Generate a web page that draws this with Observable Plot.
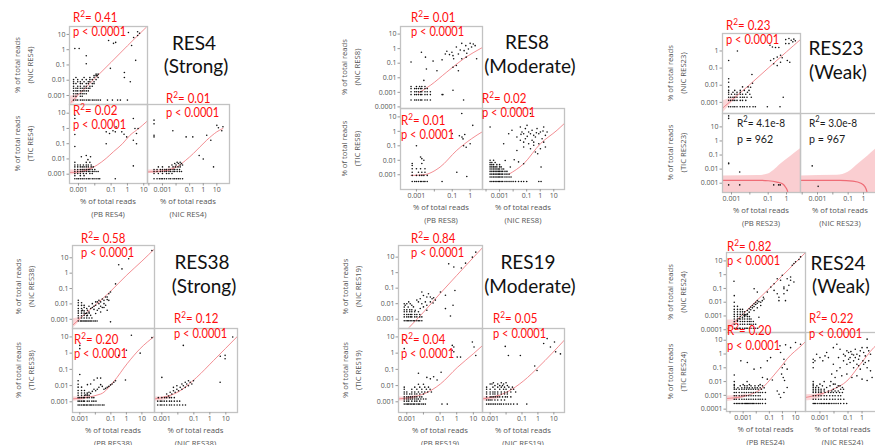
<!DOCTYPE html>
<html><head><meta charset="utf-8">
<script src="https://cdn.jsdelivr.net/npm/d3@7"></script>
<script src="https://cdn.jsdelivr.net/npm/@observablehq/plot@0.6"></script>
<style>
body{margin:0;background:#fff;}
#chart{position:relative;width:875px;height:445px;overflow:hidden;background:#fff;}
</style></head><body><div id="chart"></div>
<script>
// ---------- DATA (rows are [y, x1, x2, ...]: points sharing one y level) ----------
const groups = ["RES4","RES8","RES23","RES38","RES19","RES24"];
const strengths = ["(Strong)","(Moderate)","(Weak)","(Strong)","(Moderate)","(Weak)"];
const r2Labels = [["0.41","0.02","0.01"],["0.01","0.01","0.02"],["0.23","4.1e-8","3.0e-8"],["0.58","0.20","0.12"],["0.84","0.04","0.05"],["0.82","0.20","0.22"]];
const pLabels = [["< 0.0001","< 0.0001","< 0.0001"],["< 0.0001","< 0.0001","< 0.0001"],["< 0.0001","= 962","= 967"],["< 0.0001","< 0.0001","< 0.0001"],["< 0.0001","< 0.0001","< 0.0001"],["< 0.0001","< 0.0001","< 0.0001"]];
const sources = ["PB","NIC","TIC"];
const decadeTicks = [0.0001,0.001,0.01,0.1,1,10];
const xLabelTicks = [0.001,0.1,1,10];

// RES4
const res4_pb_nic = [[15,4.2],[13.5,1.15],[12,5.5],[8.6,4.2],[6.3,2.4],[4,0.07],[3,0.19],[2.6,0.14],[1.9,1.8],[1.2,0.0006,0.0011],[0.4,0.003],[0.2,3.2],[0.12,0.003],[0.06,0.09],[0.032,0.65],[0.025,0.012,0.016],[0.02,0.009,0.012,0.014],[0.015,0.0007,0.0022,0.005,0.009,0.016,0.65],[0.011,0.0005,0.0009,0.0017,0.003,0.005,0.007,0.012],[0.008,0.0005,0.0009,0.0013,0.0022,0.004,0.005,0.009,1.5],[0.006,0.0005,0.0007,0.0013,0.0017,0.003,0.004,0.007,0.009],[0.004,0.0005,0.0009,0.0013,0.0022,0.003,0.005,0.007],[0.003,0.0005,0.0007,0.0009,0.0013,0.0017,0.0022,0.003,0.004,0.005],[0.002,0.0005,0.0007,0.0009,0.0013,0.0017,0.0022,0.003,0.004],[0.0013,0.0005,0.0007,0.0009,0.0013,0.0017,0.0022,0.003],[0.0009,0.0005,0.0007,0.0013,0.0017],[0.0005,0.0005,0.0007,0.0009,0.0013,0.0017,0.0022,0.003,0.004,0.005,0.007,0.009,0.012,0.016,0.022,0.06,0.12,0.25,0.37,1]];
const res4_pb_tic = [[7.4,0.0006],[4.5,0.0006,2.3],[1.26,0.2],[1,2.9,4.5],[0.7,0.13],[0.6,0.05,0.18,0.45],[0.47,0.08,3.6],[0.42,0.62],[0.4,0.0006],[0.28,0.9],[0.17,2.3],[0.1,0.05,3.6],[0.065,0.0006],[0.017,0.003],[0.014,0.0015,0.0055],[0.009,0.0038],[0.0035,2.3],[0.006,0.0006,0.003,0.005],[0.004,0.0006,0.0009,0.0013,0.002,0.003,0.004,0.006],[0.003,0.0006,0.0009,0.0013,0.0017,0.0022,0.003,0.004,0.006,0.008],[0.002,0.0006,0.0009,0.0013,0.0017,0.0022,0.003,0.004,0.005,0.007,0.01],[0.0015,0.0006,0.0009,0.0013,0.0017,0.0022,0.003,0.004,0.005,0.007,0.009,0.012,0.016],[0.0011,0.0006,0.0009,0.0013,0.002,0.003,0.005,0.007],[0.0008,0.0006,0.0013,0.0022],[0.0005,0.0006,0.0008,0.001,0.0013,0.0017,0.0022,0.003,0.004,0.005,0.007,0.009,0.012,0.016,0.02,0.18]];
const res4_nic_tic = [[3.5,0.00024],[2,0.00024],[1.6,10],[1.3,28],[1.1,13],[0.7,0.0058,23],[0.36,0.00024,1.8],[0.28,0.00024,0.055,0.17],[0.17,3.6],[0.017,0.5],[0.01,1],[0.003,5.7],[0.006,0.012,0.02],[0.005,0.008,0.015,0.025],[0.004,0.005,0.01,0.02,0.03],[0.003,0.0005,0.001,0.003,0.006,0.009,0.014,0.02],[0.002,0.00024,0.0004,0.0007,0.001,0.0015,0.002,0.003,0.004,0.006,0.008,0.012,0.018],[0.0015,0.00024,0.0004,0.0007,0.001,0.0015,0.002,0.003,0.004,0.006,0.008,0.012,0.018,0.025],[0.0011,0.00024,0.0005,0.001,0.002,0.003,0.005],[0.0005,0.00024,0.0004,0.0006,0.0008,0.001,0.0014,0.002,0.003,0.004,0.006,0.008,0.011,0.015,0.02,0.03]];
const res4_pb_nic_fit = [[0.00035,0.00036],[0.001,0.0011],[0.01,0.013],[0.1,0.15],[1,1.8],[14.5,30]];
const res4_pb_tic_fit = [[0.00028,0.0013],[0.001,0.0014],[0.005,0.0022],[0.014,0.004],[0.05,0.011],[0.14,0.03],[0.5,0.1],[1.4,0.35],[5,1],[15,2.8]];
const res4_nic_tic_fit = [[0.00008,0.0014],[0.001,0.0016],[0.0114,0.003],[0.05,0.008],[0.19,0.023],[1.8,0.17],[10,0.6],[28,1.0]];
const res4_pb_nic_band = [[0.00028,0.00026,0.0009],[0.0005,0.0003,0.001],[0.001,0.0009,0.0013]];
const res4_pb_tic_band = [[0.00028,0.0009,0.0019],[0.002,0.0012,0.0021],[0.008,0.0024,0.0035]];
const res4_nic_tic_band = [[0.00008,0.0011,0.0019],[0.002,0.0013,0.0021],[0.01,0.0024,0.0034]];

// RES8
const res8_pb_nic = [[2.3,0.34,1],[2.1,1.5],[1.6,0.57,1.9],[1.3,0.17,1.2],[0.95,0.8],[0.8,0.28],[0.73,0.46],[0.66,0.05],[0.56,0.0019,0.096],[0.48,0.65],[0.43,0.041,0.22],[0.39,0.07],[0.33,0.11],[0.26,0.0032,0.6],[0.2,0.12,0.34,2.3],[0.17,0.027],[0.14,0.0085],[0.12,0.0005],[0.07,0.17],[0.053,0.11],[0.04,0.0036],[0.03,0.014,0.22],[0.0066,0.0026],[0.0014,0.11],[0.0025,0.0005,0.001,0.0015,0.002,0.003],[0.0018,0.0005,0.0008,0.001,0.0013,0.0017,0.002,0.003,0.004],[0.0011,0.0005,0.0008,0.001,0.0013,0.0017,0.002,0.003,0.004,0.006],[0.0007,0.0005,0.0008,0.001,0.0013,0.0017,0.002,0.003,0.004,0.006,0.027,0.03],[0.0003,0.0005,0.0008,0.001,0.0013,0.0017,0.002,0.003,0.004,0.006,0.43]];
const res8_pb_tic = [[17,0.34],[2.6,1.4],[0.7,0.1],[0.6,0.5],[0.5,0.25],[0.4,0.35],[0.3,0.4],[0.14,1],[0.1,0.001,0.43],[0.08,0.6],[0.017,0.0017],[0.013,0.002],[0.01,0.0026],[0.006,0.002,0.00058],[0.0044,0.00058],[0.0026,0.00058,0.001,0.0017,0.003],[0.0015,0.00058,0.0013,0.002,0.003,0.18],[0.0009,0.00058,0.001,0.0015,0.002,0.0026,0.004],[0.00075,0.65],[0.00034,0.00058,0.0008,0.001,0.0013,0.0017,0.002,0.0026,0.003,0.004,0.027]];
const res8_nic_tic = [[17,0.19],[2.6,0.106],[2,0.0002,0.034,1.8],[1.55,0.08,0.58],[1.18,0.0082,0.25],[1.05,1.6],[0.91,0.045,0.14,1.03,3.2],[0.8,0.52],[0.69,0.0047,0.06,0.19,0.78],[0.62,0.038],[0.53,0.33,2.4],[0.45,0.11],[0.41,0.019,0.44],[0.31,1.37,0.08],[0.24,0.034,0.25],[0.18,0.06,1.8,0.33],[0.14,0.002,0.14,0.78],[0.11,0.33],[0.083,0.06,2.4],[0.063,0.19,1.03],[0.048,0.019],[0.037,0.44],[0.028,0.65],[0.011,0.012],[0.0097,0.0026],[0.0077,0.025],[0.0058,0.06],[0.0034,0.0062,1.15],[0.01,0.0002,0.00036],[0.007,0.0002,0.00027,0.00047],[0.005,0.0002,0.00027,0.00036,0.00063,0.001],[0.0035,0.0002,0.00027,0.00036,0.00047,0.00063,0.001,0.0013],[0.0025,0.0002,0.00027,0.00036,0.00047,0.00063,0.0008,0.001,0.0015,0.002],[0.0017,0.0002,0.00027,0.00036,0.00047,0.00063,0.0008,0.001,0.0013,0.0017,0.0025,0.0035],[0.0011,0.0002,0.00027,0.00036,0.00047,0.00063,0.0008,0.001,0.0013,0.0017,0.0025,0.0035,0.005],[0.0007,0.0002,0.00027,0.00036,0.00047,0.00063,0.0008,0.001,0.0013,0.0017,0.0025,0.0035,0.005,0.007],[0.00034,0.0002,0.00027,0.00036,0.00047,0.00063,0.0008,0.001,0.0013,0.0017,0.0025,0.0035,0.005,0.007,0.01,0.015,0.025,0.04,0.06,0.1,0.78,1.15]];
const res8_pb_nic_fit = [[0.0013,0.0009],[0.006,0.003],[0.05,0.025],[0.43,0.2],[4.9,1.2]];
const res8_pb_tic_fit = [[0.0005,0.0009],[0.0026,0.001],[0.021,0.0034],[0.18,0.049],[1.2,0.31],[4.9,0.95]];
const res8_nic_tic_fit = [[0.005,0.0011],[0.06,0.0058],[1.03,0.14],[17.5,1.2],[62,3.6]];

// RES23
const res23_pb_nic = [[5.3,1.35],[4.9,2.5],[4.6,0.9],[4.2,1.8],[3.9,3],[3.4,2.2],[2.7,0.9,1.35],[2.15,0.125],[1.7,0.17],[1.6,0.25,0.38],[1,0.0021],[0.56,0.47],[0.44,0.31],[0.4,0.58],[0.35,0.2],[0.28,0.0007,0.135,1.1],[0.22,1.5,0.47],[0.18,0.2],[0.14,0.31],[0.042,0.013],[0.024,0.0007],[0.015,0.0007],[0.013,0.014],[0.0076,0.011],[0.002,0.66],[0.008,0.0007,0.004,0.008],[0.005,0.0007,0.0015,0.003,0.005,0.009],[0.0039,0.0007,0.0012,0.002,0.003,0.0074],[0.003,0.0007,0.001,0.0015,0.002,0.003,0.004,0.006,0.01],[0.002,0.0007,0.0009,0.0012,0.0015,0.002,0.003,0.004,0.005,0.007,0.012],[0.0013,0.0007,0.0009,0.0012,0.0015,0.002,0.003,0.004,0.006],[0.00056,0.0007,0.0009,0.0012,0.0015,0.002,0.003,0.004,0.005,0.007,0.01,0.015,0.02,0.09,0.44]];
const res23_pb_tic = [[60,0.0007],[40,0.0007],[0.027,0.0007],[0.024,0.0007],[0.0063,0.0028],[0.00076,0.0007,0.0028,0.2,0.37,0.45]];
const res23_nic_tic = [[0.017,0.00045],[0.0006,0.0011]];
const res23_pb_nic_fit = [[0.00032,0.00045],[0.001,0.0013],[0.01,0.011],[0.1,0.1],[1,0.9],[5.8,4.7]];
const res23_pb_tic_fit = [[0.00032,0.0016],[0.03,0.0016],[0.1,0.0015],[0.3,0.0012],[0.6,0.0009],[0.9,0.0005],[1.15,0.00025],[1.25,0.0001]];
const res23_nic_tic_fit = [[0.00008,0.0016],[0.03,0.0016],[0.2,0.0014],[0.68,0.001],[1.2,0.0006],[1.7,0.00023],[1.9,0.0001]];
const res23_pb_nic_band = [[0.00032,0.00022,0.0012],[0.001,0.0009,0.0018],[0.002,0.0018,0.0025]];
const res23_pb_tic_band = [[0.00032,1e-5,0.0033],[0.03,1e-5,0.0035],[0.1,1e-5,0.0045],[0.2,1e-5,0.008],[0.47,1e-5,0.022],[1.65,1e-5,0.08],[5.8,1e-5,0.28]];
const res23_nic_tic_band = [[0.00008,1e-5,0.0033],[0.02,1e-5,0.0036],[0.1,1e-5,0.006],[0.5,1e-5,0.025],[1.95,1e-5,0.087],[6.6,1e-5,0.28],[12.6,1e-5,0.5]];

// RES38
const res38_pb_nic = [[30,44],[8.7,1.4],[3.5,0.32],[1.9,0.52],[0.2,0.2],[0.059,0.095],[0.046,0.074],[0.028,0.046,0.058],[0.021,0.028],[0.019,0.058],[0.017,0.036,0.017,0.074,0.0008],[0.0135,0.022,0.0134,0.0105],[0.012,0.0008,0.0013],[0.0104,0.017,0.036,0.0064],[0.0081,0.0105,0.046],[0.008,0.0008,0.0013,0.0019],[0.007,0.0082,0.022,0.0039],[0.0058,0.0064,0.028,0.036,0.0019],[0.005,0.005,0.017,0.0008,0.0013,0.0028],[0.0044,0.0082],[0.0039,0.0134,0.0031,0.058,0.0015],[0.0035,0.0008,0.0013,0.0019],[0.003,0.0039,0.022],[0.0025,0.0008,0.0013,0.0019,0.0028,0.004],[0.0024,0.0024,0.0105],[0.0018,0.0019,0.005,0.0031],[0.0017,0.0008,0.0013,0.0028],[0.0012,0.0008,0.0013,0.0019,0.0028,0.004,0.006],[0.00077,0.0008,0.0011,0.0013,0.0016,0.0019,0.0023,0.0028,0.0034,0.004,0.005,0.006,0.008,0.01,0.013],[0.00068,0.095]];
const res38_pb_tic = [[12.6,2.1],[9.1,44],[3,0.001],[1.9,0.001],[1.5,1],[1,7.7],[0.73,0.32],[0.048,0.001],[0.022,0.87],[0.029,0.0134,0.022],[0.022,0.0082],[0.02,0.2,0.00078],[0.016,0.155],[0.0126,0.12,0.005],[0.012,0.00078],[0.0114,0.022,0.0031],[0.011,0.095],[0.0089,0.074,0.028],[0.008,0.00078,0.0013],[0.0078,0.058,0.017],[0.0067,0.046],[0.006,0.036,0.0134,0.0082],[0.005,0.00078,0.0013,0.002],[0.0048,0.0105],[0.0044,0.0064],[0.0039,0.0039],[0.0035,0.00078,0.0013,0.002,0.003],[0.0033,0.005],[0.003,0.0031],[0.0026,0.0024],[0.0025,0.00078,0.0013,0.002,0.003,0.004],[0.0018,0.00078,0.001,0.0013,0.0017,0.002,0.003,0.004,0.006,0.008],[0.0011,0.00078,0.001,0.0013,0.0017,0.002,0.003,0.004,0.006,0.008,0.011],[0.00063,0.00078,0.001,0.0013,0.0017,0.002,0.0026,0.003,0.004,0.005,0.006,0.008,0.011,0.015,0.02,0.028,0.036]];
const res38_nic_tic = [[10,27],[3,0.022],[0.73,9],[0.64,4.5],[0.45,9],[0.016,4.4],[0.032,0.001],[0.02,0.095,0.046],[0.016,0.059,0.029],[0.0126,0.036,0.075,0.018],[0.0098,0.022,0.046,0.0087],[0.0078,0.014,0.029,0.0053],[0.006,0.0087,0.018],[0.0048,0.0053,0.011],[0.0039,0.0068,0.0033],[0.003,0.0042,0.002],[0.0023,0.0026],[0.0018,0.0006,0.001,0.0015,0.002,0.003,0.004,0.006],[0.0011,0.00055,0.0008,0.001,0.0014,0.002,0.003,0.004,0.006,0.009,0.013],[0.00063,0.00055,0.0008,0.001,0.0014,0.002,0.003,0.004,0.006,0.009,0.013,0.02,0.03]];
const res38_pb_nic_fit = [[0.00034,0.0004],[0.001,0.0011],[0.1,0.069],[1,0.71],[10,6.1],[65,38]];
const res38_pb_tic_fit = [[0.00034,0.0015],[0.022,0.003],[0.155,0.018],[1.1,0.22],[7.7,1.9],[65,11]];
const res38_nic_tic_fit = [[0.00035,0.0015],[0.014,0.0048],[0.15,0.032],[1.7,0.35],[54,11]];
const res38_pb_nic_band = [[0.00034,0.00025,0.0011],[0.0007,0.0005,0.0012],[0.0012,0.001,0.0016]];
const res38_pb_tic_band = [[0.00034,0.0011,0.002],[0.001,0.0012,0.002],[0.004,0.0016,0.0026]];
const res38_nic_tic_band = [[0.00035,0.0011,0.002],[0.001,0.0012,0.002],[0.004,0.0016,0.0026]];

// RES19
const res19_pb_nic = [[21,14],[10,8.7],[4.1,3.4],[3.7,0.33],[2.3,0.67],[2,1.9],[0.07,0.78],[0.056,0.105,0.008],[0.035,0.21],[0.008,0.6],[0.0048,0.21],[0.0016,0.42],[0.044,0.02],[0.034,0.01],[0.027,0.016,0.026],[0.024,0.041],[0.021,0.033,0.0064],[0.017,0.052,0.004],[0.013,0.005,0.013,0.026,0.0013],[0.011,0.038],[0.01,0.008,0.0016,0.001,0.0007],[0.0079,0.016,0.002,0.0008],[0.0062,0.01,0.0025],[0.006,0.0007,0.0012],[0.0049,0.0064],[0.004,0.0007,0.001,0.0015,0.002],[0.0038,0.016,0.0032],[0.003,0.0007,0.001,0.0015,0.002,0.003,0.005],[0.002,0.0007,0.001,0.0013,0.0017,0.002,0.003,0.004,0.006],[0.0014,0.0007,0.001,0.0013,0.0017,0.002,0.003,0.004,0.006,0.008],[0.0008,0.0007,0.0009,0.0011,0.0013,0.0016,0.002,0.0025,0.003,0.004,0.005,0.006,0.008]];
const res19_pb_tic = [[6.2,0.0007],[1.9,0.0007],[4.9,8.7],[3,0.54],[2.4,0.67,11],[1.5,0.54],[1.2,0.67],[0.72,14],[0.57,1.07,1.7],[0.057,0.005],[0.067,0.115],[0.035,0.041],[0.032,0.016],[0.026,0.026],[0.022,0.066],[0.012,0.005,0.01],[0.008,0.0007,0.003,0.006,0.012,0.02],[0.006,0.0007,0.002,0.004,0.008,0.015,0.025],[0.004,0.0007,0.001,0.002,0.003,0.005,0.008,0.012,0.018,0.03],[0.003,0.0007,0.001,0.0015,0.002,0.003,0.004,0.006,0.01],[0.002,0.0007,0.001,0.0013,0.0017,0.0022,0.003,0.004,0.006,0.008],[0.0015,0.0007,0.001,0.0013,0.0017,0.0022,0.003,0.004,0.005,0.007,0.01,0.014],[0.0011,0.0007,0.001,0.0013,0.002,0.003,0.004,0.006],[0.00072,0.0007,0.0009,0.0011,0.0013,0.0016,0.002,0.0025,0.003,0.004,0.005,0.006,0.008,0.01,0.013,0.13,0.27]];
const res19_nic_tic = [[7.9,3.8],[4.9,11],[3.9,2.3],[2.6,0.0089],[2.4,6.1],[1.2,13],[0.9,26],[0.72,0.014,0.079],[0.16,0.63],[0.085,0.88],[0.015,0.0016,0.005,0.01],[0.0126,0.001,0.0013,0.003,0.007],[0.01,0.002,0.004,0.006,0.012],[0.008,0.0006,0.0015,0.003,0.005,0.008,0.015,0.025],[0.006,0.0006,0.001,0.002,0.004,0.007,0.01,0.02,0.03],[0.004,0.0006,0.001,0.0015,0.002,0.003,0.005,0.008,0.012,0.02,0.04],[0.003,0.0006,0.001,0.0015,0.002,0.003,0.005,0.008,0.012],[0.002,0.0006,0.001,0.0013,0.0017,0.0022,0.003,0.004,0.006,0.009,0.012,0.02],[0.0013,0.0006,0.0008,0.001,0.0013,0.002,0.003,0.005,0.008],[0.00072,0.0006,0.0008,0.001,0.0013,0.0017,0.0022,0.003,0.004,0.005,0.007,0.01,0.014,0.02,0.03,0.05,0.2]];
const res19_pb_nic_fit = [[0.0014,0.0003],[0.01,0.0028],[0.1,0.045],[1,0.66],[10,9.5],[35,40]];
const res19_pb_tic_fit = [[0.00032,0.0015],[0.01,0.003],[0.105,0.0126],[1.07,0.13],[10,0.92],[35,2.9]];
const res19_nic_tic_fit = [[0.00033,0.0015],[0.011,0.0039],[0.13,0.02],[1.1,0.14],[47,6.5]];
const res19_pb_tic_band = [[0.00032,0.0011,0.002],[0.001,0.0012,0.002],[0.004,0.0016,0.0026]];
const res19_nic_tic_band = [[0.00033,0.0011,0.002],[0.001,0.0012,0.002],[0.004,0.0016,0.0026]];

// RES24
const res24_pb_nic = [[19.6,24],[12.5,18],[8.5,10],[6.4,7.5],[4.8,5.6],[0.9,0.97],[0.68,4.2],[0.51,2.3,0.4],[0.39,4.2,0.72],[0.33,0.0002],[0.29,7.5],[0.22,0.23],[0.17,3.1],[0.125,1.3,0.13],[0.095,1.3,0.0069],[0.072,2.3,0.23],[0.054,0.07,0.012],[0.041,0.4,1.3],[0.023,0.035,0.54],[0.013,1.7,0.54],[0.0008,0.016],[0.017,0.039],[0.013,0.029,0.012],[0.011,0.016],[0.01,0.0091,0.022,0.00021],[0.0084,0.012],[0.0076,0.0068],[0.0068,0.0091],[0.0058,0.0051,0.022],[0.0049,0.0068],[0.0044,0.0038],[0.0039,0.0051,0.012],[0.0033,0.0029],[0.0028,0.0038],[0.0025,0.0021,0.0068],[0.0019,0.0029],[0.0014,0.0021],[0.0012,0.0016],[0.0011,0.0012],[0.00081,0.00089],[0.00062,0.0005],[0.00047,0.00037],[0.03,0.00021],[0.005,0.00021,0.00037],[0.003,0.00021,0.00037,0.0006,0.0009],[0.002,0.00021,0.00037,0.0006,0.0009,0.0013],[0.0013,0.00021,0.00037,0.0006,0.0009,0.0013,0.0021],[0.0009,0.00021,0.00037,0.0006,0.0013,0.0021,0.003],[0.0006,0.00021,0.00037,0.0006,0.0009,0.0013,0.0021,0.003,0.004],[0.0004,0.00021,0.00037,0.0006,0.0009,0.0013,0.0021,0.003,0.004,0.006],[0.00025,0.00021,0.00037,0.0006,0.0009,0.0013,0.0021,0.003,0.004,0.006,0.009],[0.00013,0.00021,0.0003,0.00037,0.0005,0.0006,0.0009,0.0013,0.0017,0.0021,0.003,0.004,0.006,0.009,0.013]];
const res24_pb_tic = [[6.8,10],[5.1,24],[4.6,1.74],[3.9,0.65],[2.9,4.2],[1.3,0.72],[0.55,0.125],[0.42,1.3],[0.32,0.00067,0.07],[0.24,0.0021],[0.18,1.45],[0.1,0.97,0.022],[0.08,2.3,0.0068],[0.035,0.86],[0.02,1.15,0.03],[0.015,0.07],[0.013,0.17],[0.012,1.45],[0.0037,2.3],[0.0021,0.4],[0.0016,1.3],[0.0012,0.55],[0.0007,0.72],[0.03,0.00021],[0.01,0.00021,0.002],[0.006,0.00021,0.001,0.003,0.02],[0.0049,0.00021,0.0006,0.0013,0.002,0.004,0.008,0.015,0.03],[0.0035,0.00021,0.0004,0.0008,0.0013,0.002,0.003,0.005,0.008,0.012,0.02,0.04],[0.0028,0.00021,0.0003,0.0005,0.0008,0.0012,0.0018,0.0027,0.004,0.006,0.009,0.014,0.025],[0.0016,0.00021,0.0003,0.0005,0.0008,0.0012,0.0018,0.0027,0.004,0.006,0.009,0.014,0.02,0.03,0.05],[0.00093,0.00021,0.0003,0.0005,0.0008,0.0012,0.0018,0.0027,0.004,0.006,0.009,0.014,0.02],[0.00052,0.00021,0.0003,0.0005,0.0008,0.0012,0.0018,0.0027,0.004,0.006,0.009,0.014,0.02,0.03,0.05],[0.00026,0.00021,0.0003,0.0004,0.0005,0.0007,0.0009,0.0012,0.0015,0.0018,0.0022,0.0027,0.0033,0.004,0.005,0.006,0.008,0.011,0.015,0.02,0.03,0.05]];
const res24_nic_tic = [[12,2.3],[5.1,0.016],[2.9,0.009,1,2.3],[2.2,0.027,0.33],[1.7,0.083,0.75,3],[1.5,0.16],[1.3,0.11,1.3,0.003],[0.97,0.048,0.19,0.43,4,0.00058],[0.85,0.25],[0.73,1.7,0.67,0.063,0.0023],[0.55,0.14,0.33,0.021,0.001,0.004],[0.42,0.57,0.11,0.00033],[0.32,0.25,0.048,1.15,3,0.00044,0.0016],[0.24,0.14,1.7,0.00033],[0.18,0.083,0.43,1.3,0.009],[0.14,0.57],[0.1,0.25,2.3,0.027,0.00033],[0.08,0.75],[0.06,4,0.016],[0.035,0.0069,0.083],[0.026,0.036,0.43],[0.02,0.012,0.19,5.2],[0.015,1],[0.012,2.3],[0.01,0.00033,0.002,0.006],[0.0065,0.00033,0.001,0.009,0.012],[0.0049,0.00033,0.0006,0.0015,0.0052,0.027,0.02],[0.0037,0.00033,0.0005,0.0008,0.003,0.016,0.04],[0.0028,0.00033,0.0005,0.0008,0.0012,0.002,0.009,0.048,0.03],[0.0021,0.00033,0.0005,0.0008,0.0012,0.002,0.004,0.007,0.012,0.02],[0.0016,0.00033,0.0005,0.0008,0.0012,0.0023,0.004,0.006,0.009,0.015,0.025,0.04],[0.00093,0.00033,0.0005,0.0008,0.0012,0.002,0.003,0.005,0.008,0.012,0.02,0.03],[0.00052,0.00033,0.0005,0.0008,0.0012,0.002,0.003,0.005,0.008,0.012,0.02,0.03,0.05],[0.00026,0.00033,0.0004,0.0005,0.0007,0.001,0.0013,0.0017,0.0022,0.003,0.004,0.005,0.007,0.01,0.014,0.02,0.03,0.05,0.08]];
const res24_pb_nic_fit = [[0.000054,0.0001],[0.001,0.0014],[0.01,0.012],[0.1,0.1],[1,0.85],[10,7.6],[58,41]];
const res24_pb_tic_fit = [[0.000054,0.00059],[0.0021,0.001],[0.022,0.0028],[0.23,0.03],[0.72,0.11],[2.3,0.45],[32,4.6],[58,8]];
const res24_nic_tic_fit = [[0.000093,0.0007],[0.009,0.0028],[0.083,0.011],[0.75,0.18],[6.8,2.9],[40,15]];
const res24_pb_nic_band = [[0.000054,0.00006,0.0005],[0.0002,0.00015,0.0005],[0.0004,0.00035,0.0006]];
const res24_pb_tic_band = [[0.000054,0.00035,0.0009],[0.0005,0.0005,0.001],[0.002,0.0008,0.0013]];
const res24_nic_tic_band = [[0.000093,0.0004,0.0011],[0.0005,0.0005,0.0012],[0.002,0.0009,0.0016]];

// ---------- LAYOUT ----------
// boxes: [left, mid, right, top, mid, bottom] ; domains as log10 exponents
const layout = [
 {b:[69,147,229,26,104,183], xL:[-3.55,1.23], xR:[-4.1,1.93], yT:[-3.59,1.52], yB:[-3.61,1.57],
  title:[194,50,196,73], ann:[[73,22,36],[73,115,129],[166,103,117]], ylab:[17,30]},
 {b:[400,482,564,26,108,189], xL:[-3.89,0.69], xR:[-4.26,1.79], yT:[-4.11,1.52], yB:[-4.02,1.58],
  title:[527,49,530,73], ann:[[411,22,36],[401,125,139],[482,103,117]], ylab:[344,357]},
 {b:[722,800,880,33,113,192], xL:[-3.49,0.76], xR:[-4.11,1.11], yT:[-3.65,1.02], yB:[-3.66,1.95],
  title:[836,55,838,79], ann:[[726,30,44],[737,127,143],[809,127,143]], ylab:[670,683]},
 {b:[72,154,237,245,328,412], xL:[-3.47,1.81], xR:[-3.46,1.73], yT:[-3.6,1.8], yB:[-3.66,1.52],
  title:[202,269,204,293], ann:[[81,243,257],[74,344,358],[174,323,338]], ylab:[18,31]},
 {b:[398,482,564,245,328,412], xL:[-3.5,1.55], xR:[-3.48,1.67], yT:[-3.6,1.75], yB:[-3.66,1.52],
  title:[528,269,530,293], ann:[[411,243,257],[401,344,358],[493,323,338]], ylab:[345,358]},
 {b:[726,805,884,252,332,411], xL:[-4.27,1.76], xR:[-4.03,1.6], yT:[-4.2,1.61], yB:[-4.17,1.56],
  title:[838,270,841,293], ann:[[727,251,265],[727,335,350],[809,323,338]], ylab:[670,683]}
];
const panelData = [
 [[res4_pb_nic,res4_pb_nic_fit,res4_pb_nic_band],[res4_pb_tic,res4_pb_tic_fit,res4_pb_tic_band],[res4_nic_tic,res4_nic_tic_fit,res4_nic_tic_band]],
 [[res8_pb_nic,res8_pb_nic_fit,null],[res8_pb_tic,res8_pb_tic_fit,null],[res8_nic_tic,res8_nic_tic_fit,null]],
 [[res23_pb_nic,res23_pb_nic_fit,res23_pb_nic_band],[res23_pb_tic,res23_pb_tic_fit,res23_pb_tic_band],[res23_nic_tic,res23_nic_tic_fit,res23_nic_tic_band]],
 [[res38_pb_nic,res38_pb_nic_fit,res38_pb_nic_band],[res38_pb_tic,res38_pb_tic_fit,res38_pb_tic_band],[res38_nic_tic,res38_nic_tic_fit,res38_nic_tic_band]],
 [[res19_pb_nic,res19_pb_nic_fit,null],[res19_pb_tic,res19_pb_tic_fit,res19_pb_tic_band],[res19_nic_tic,res19_nic_tic_fit,res19_nic_tic_band]],
 [[res24_pb_nic,res24_pb_nic_fit,res24_pb_nic_band],[res24_pb_tic,res24_pb_tic_fit,res24_pb_tic_band],[res24_nic_tic,res24_nic_tic_fit,res24_nic_tic_band]]
];

const chart = document.getElementById("chart");
const tickFont = "'Open Sans', sans-serif";
const W = 875;

function inDomain(v, d){ const l = Math.log10(v); return l >= d[0] + 0.08 && l <= d[1] - 0.05; }

function panel(box, xd, yd, [rows, fit, band], showX, showY, strong) {
  const ml = showY ? 36 : 0, mb = showX ? 16 : 0;
  const w = box[1] - box[0], h = box[3] - box[2];
  const pts = rows.flatMap(([y, ...xs]) => xs.map(x => ({x, y})));
  const marks = [];
  if (band) marks.push(Plot.areaY(band, {x: d => d[0], y1: d => d[1], y2: d => d[2], fill: "#f9c6c9", fillOpacity: strong ? 0.85 : 0.7, curve: "monotone-x", clip: true}));
  marks.push(Plot.line(fit, {x: d => d[0], y: d => d[1], stroke: strong ? "#ec5a66" : "#f07a80", strokeWidth: strong ? 1.2 : 1, strokeOpacity: 0.85, curve: "monotone-x", clip: true}));
  marks.push(Plot.dot(pts, {x: "x", y: "y", r: 0.8, fill: "#111", stroke: null, clip: true}));
  marks.push(Plot.frame({stroke: "#c2c2c2", strokeWidth: 1.3}));
  const X = {type: "log", domain: xd.map(e => 10 ** e)};
  const Y = {type: "log", domain: yd.map(e => 10 ** e)};
  // keep only x tick labels that fit inside the picture
  const xpix = v => box[0] + (Math.log10(v) - xd[0]) / (xd[1] - xd[0]) * w;
  if (showX) marks.push(Plot.axisX({ticks: decadeTicks.filter(v => inDomain(v, xd) && xpix(v) < W - 6), tickSize: 2.5, tickPadding: 1.5,
      tickFormat: d => xLabelTicks.includes(d) ? String(d) : "", fontSize: 7, stroke: "#999", fill: "#555", label: null}));
  else X.axis = null;
  if (showY) marks.push(Plot.axisY({ticks: decadeTicks.filter(v => inDomain(v, yd)), tickSize: 2.5, tickPadding: 1.5,
      tickFormat: d => String(d), fontSize: 7, stroke: "#999", fill: "#555", label: null}));
  else Y.axis = null;
  const svg = Plot.plot({width: w + ml, height: h + mb, marginLeft: ml, marginRight: 0, marginTop: 0, marginBottom: mb,
    x: X, y: Y, marks,
    style: {position: "absolute", left: (box[0] - ml) + "px", top: box[2] + "px", overflow: "visible", background: "transparent", fontFamily: tickFont, fontSize: "7px"}});
  chart.appendChild(svg);
}

layout.forEach((L, g) => {
  const [x0, xm, x1, y0, ym, y1] = L.b;
  const weak = g === 2;
  panel([x0, xm, y0, ym], L.xL, L.yT, panelData[g][0], false, true, false);
  panel([x0, xm, ym, y1], L.xL, L.yB, panelData[g][1], true, true, weak);
  panel([xm, x1, ym, y1], L.xR, L.yB, panelData[g][2], true, false, weak);
});

// ---------- TEXT OVERLAY ----------
const ov = d3.select(chart).append("svg").attr("width", 875).attr("height", 445)
  .style("position", "absolute").style("left", 0).style("top", 0);
function squeeze(sel, f) {
  const n = sel.node().getComputedTextLength();
  if (n > 0) sel.attr("textLength", n * f).attr("lengthAdjust", "spacingAndGlyphs");
  return sel;
}
const axisFont = 7.7;
layout.forEach((L, g) => {
  const [x0, xm, x1, y0, ym, y1] = L.b;
  const name = groups[g];
  ov.append("text").attr("x", L.title[0]).attr("y", L.title[1]).attr("text-anchor", "middle")
    .attr("font-family", "Lato, sans-serif").attr("font-size", 19).attr("fill", "#111").text(name);
  ov.append("text").attr("x", L.title[2]).attr("y", L.title[3]).attr("text-anchor", "middle")
    .attr("font-family", "Lato, sans-serif").attr("font-size", 19).attr("fill", "#111").text(strengths[g]);
  // annotations
  L.ann.forEach(([ax, ry, py], k) => {
    const black = g === 2 && k > 0;
    const col = black ? "#1a1a1a" : "#ff0d0d";
    const fs = black ? 12 : 12.5;
    const t = ov.append("text").attr("x", ax).attr("y", ry).attr("font-family", "Lato, sans-serif").attr("font-size", fs).attr("fill", col);
    t.append("tspan").text("R");
    t.append("tspan").attr("dy", -5).attr("font-size", 9).text("2");
    t.append("tspan").attr("dy", 5).text("= " + r2Labels[g][k]);
    squeeze(t, black ? 0.84 : 0.92);
    const p = ov.append("text").attr("x", ax).attr("y", py).attr("font-family", "Lato, sans-serif").attr("font-size", fs).attr("fill", col)
      .text("p " + pLabels[g][k]);
    squeeze(p, 0.89);
  });
  // x axis labels
  [[x0, xm, sources[0]], [xm, Math.min(x1, 880), sources[1]]].forEach(([a, b, s]) => {
    const cx = (a + b) / 2;
    ov.append("text").attr("x", cx).attr("y", y1 + 21).attr("text-anchor", "middle").attr("font-family", tickFont)
      .attr("font-size", axisFont).attr("fill", "#555").text("% of total reads");
    ov.append("text").attr("x", cx).attr("y", y1 + 33.5).attr("text-anchor", "middle").attr("font-family", tickFont)
      .attr("font-size", axisFont).attr("fill", "#555").text("(" + s + " " + name + ")");
  });
  // y axis labels
  [[y0, ym, sources[1]], [ym, y1, sources[2]]].forEach(([a, b, s]) => {
    const cy = (a + b) / 2;
    ov.append("text").attr("transform", `translate(${L.ylab[0]},${cy}) rotate(-90)`).attr("text-anchor", "middle")
      .attr("dominant-baseline", "central").attr("font-family", tickFont).attr("font-size", axisFont).attr("fill", "#555").text("% of total reads");
    ov.append("text").attr("transform", `translate(${L.ylab[1]},${cy}) rotate(-90)`).attr("text-anchor", "middle")
      .attr("dominant-baseline", "central").attr("font-family", tickFont).attr("font-size", axisFont).attr("fill", "#555").text("(" + s + " " + name + ")");
  });
});
</script></body></html>
